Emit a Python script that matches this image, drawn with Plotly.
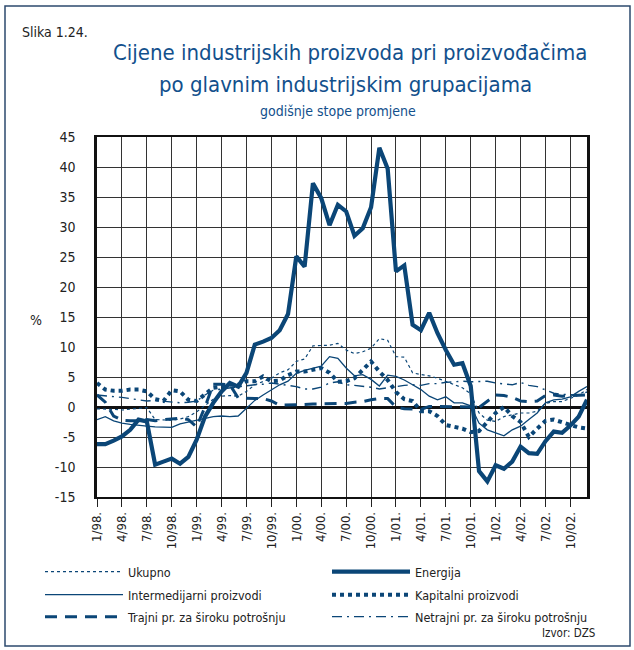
import plotly.graph_objects as go

# ---------------- data (monthly, 1/98 .. 12/02) ----------------
months = list(range(60))
tick_pos = list(range(0, 60, 3))
tick_labels = ["1/98.", "4/98.", "7/98.", "10/98.", "1/99.", "4/99.", "7/99.", "10/99.",
               "1/00.", "4/00.", "7/00.", "10/00.", "1/01.", "4/01.", "7/01.", "10/01.",
               "1/02.", "4/02.", "7/02.", "10/02."]
y_ticks = [-15, -10, -5, 0, 5, 10, 15, 20, 25, 30, 35, 40, 45]
y_tick_labels = ["-15", "-10", "-5", "0", "5", "10", "15", "20", "25", "30", "35", "40", "45"]

ukupno = [-0.3, -0.3, -0.4, -0.5, -0.4, -0.2, -0.1, -2.1, -2.2, -2.2, -2.0, -1.6,
          -0.8, 0.2, 1.3, 1.8, 1.9, 1.8, 2.6, 3.7, 4.3, 4.8, 5.7, 6.2,
          7.6, 8.0, 10.2, 10.2, 10.3, 10.6, 9.5, 8.9, 9.2, 9.8, 11.4, 11.1,
          8.4, 8.3, 5.7, 5.4, 5.2, 4.8, 4.3, 3.7, 3.2, 2.2, -1.0, -2.2,
          -2.4, -1.6, -1.3, -1.0, -1.0, -0.7, 0.6, 0.9, 0.9, 1.4, 2.0, 2.9]

energija = [-6.2, -6.2, -5.6, -4.9, -3.8, -2.1, -2.4, -9.6, -9.1, -8.6, -9.45, -8.3,
            -5.45, -1.6, 0.7, 2.6, 4.0, 3.4, 5.7, 10.4, 10.9, 11.5, 12.8, 15.5,
            25.1, 23.4, 37.3, 34.8, 30.3, 33.7, 32.6, 28.55, 29.8, 33.3, 43.2, 39.7,
            22.6, 23.6, 13.7, 12.8, 15.7, 12.3, 9.5, 7.05, 7.3, 3.5, -10.7, -12.4,
            -9.7, -10.3, -9.1, -6.6, -7.7, -7.8, -5.7, -4.1, -4.3, -3.1, -1.6, 1.2]

intermedijarni = [-2.1, -1.6, -2.3, -2.7, -2.9, -3.1, -3.2, -3.3, -3.4, -3.4, -2.8, -2.5,
                  -2.2, -1.8, -1.6, -1.5, -1.6, -1.5, -0.2, 1.1, 2.0, 2.8, 3.7, 4.3,
                  5.6, 6.1, 6.5, 6.8, 8.4, 8.1, 6.5, 5.2, 5.4, 4.6, 3.5, 5.3,
                  5.1, 4.5, 3.7, 2.9, 1.8, 1.2, 1.7, 0.7, 0.7, 0.2, -2.7, -3.8,
                  -4.3, -4.8, -3.8, -3.2, -2.1, -1.0, 0.7, 1.2, 1.3, 1.7, 2.6, 3.4]

kapitalni = [4.0, 2.9, 2.7, 2.7, 2.9, 2.9, 2.6, 1.3, 1.0, 2.8, 2.6, 1.2,
             1.0, 2.2, 3.2, 3.4, 3.7, 3.7, 4.3, 4.3, 5.1, 4.3, 4.4, 5.3,
             5.9, 5.9, 6.2, 6.5, 5.7, 4.2, 4.3, 4.8, 6.2, 7.6, 5.9, 4.5,
             2.5, 1.3, 1.0, -0.7, -0.7, -1.5, -3.0, -3.3, -3.6, -4.2, -4.0, -2.5,
             -1.0, 0.0, -1.5, -2.5, -5.0, -3.6, -2.3, -2.1, -2.6, -3.0, -3.4, -3.6]

trajni = [2.0, 0.8, -1.5, -2.2, -2.3, -2.3, -2.1, -2.3, -2.1, -2.0, -1.9, -2.1,
          -3.3, 0.0, 3.8, 3.8, 3.7, 1.5, 1.4, 1.4, 1.4, 1.0, 0.3, 0.3,
          0.4, 0.4, 0.5, 0.5, 0.5, 0.5, 0.6, 0.8, 0.9, 1.2, 1.4, 1.4,
          0.0, -0.3, -0.4, -0.4, 0.1, 0.1, 0.1, 0.1, 0.1, 0.0, -0.1, 1.0,
          2.0, 1.9, 1.6, 1.0, 0.9, 1.0, 1.9, 2.0, 1.8, 1.9, 1.9, 2.0]

netrajni = [2.0, 1.9, 1.8, 1.6, 1.4, 1.2, 1.0, 1.1, 1.0, 0.9, 0.7, 0.8,
            1.0, 2.0, 2.8, 3.0, 3.2, 3.3, 3.5, 3.7, 3.8, 4.0, 3.8, 3.6,
            3.4, 3.0, 3.0, 3.3, 4.0, 4.2, 3.7, 3.6, 3.5, 3.3, 3.0, 3.2,
            3.5, 3.6, 3.7, 3.6, 3.9, 3.9, 4.1, 4.2, 4.3, 4.2, 4.2, 4.3,
            4.0, 3.8, 3.7, 4.1, 3.6, 3.4, 2.8, 2.3, 2.1, 2.0, 2.0, 2.5]

# ---------------- styling ----------------
NAVY = "#0b4677"
TITLE_BLUE = "#12508c"
FONT = "DejaVu Sans Condensed, Liberation Sans Narrow, sans-serif"

W, H = 634, 650
L, R, T, B = 97, 587, 137, 497


def px(x):
    return (x - L) / (R - L)


def py(y):
    return (B - y) / (B - T)


series = [
    ("Ukupno", ukupno, dict(color=NAVY, width=1.2, dash="dot")),
    ("Energija", energija, dict(color=NAVY, width=4.2)),
    ("Intermedijarni proizvodi", intermedijarni, dict(color=NAVY, width=1.3)),
    ("Kapitalni proizvodi", kapitalni, dict(color=NAVY, width=4, dash="dot")),
    ("Trajni pr. za široku potrošnju", trajni, dict(color=NAVY, width=3, dash="12px,8px")),
    ("Netrajni pr. za široku potrošnju", netrajni, dict(color=NAVY, width=1.4, dash="10px,5px,2px,5px")),
]
# legend slot (column x, row y) in pixels for each series
legend_slots = [(40, 572), (327, 572), (40, 595), (327, 595), (40, 617), (327, 617)]

fig = go.Figure()
legend_layouts = {}
for i, (name, vals, line) in enumerate(series):
    lname = "legend" if i == 0 else f"legend{i + 1}"
    fig.add_trace(go.Scatter(x=months, y=vals, name=name, mode="lines", line=line,
                             legend=lname, hoverinfo="skip"))
    lx, ly = legend_slots[i]
    legend_layouts[lname] = dict(x=px(lx), y=py(ly), xanchor="left", yanchor="middle",
                                 orientation="v", itemwidth=78,
                                 font=dict(family=FONT, size=12.5, color="#222"),
                                 bgcolor="rgba(0,0,0,0)")

fig.update_layout(
    width=W, height=H,
    margin=dict(l=L, r=W - R, t=T, b=H - B, autoexpand=False),
    paper_bgcolor="white", plot_bgcolor="white",
    font=dict(family=FONT, size=13, color="#222"),
    showlegend=True,
    **legend_layouts,
)

fig.update_xaxes(range=[0, 59], tickvals=tick_pos, ticktext=tick_labels, tickangle=-90,
                 showgrid=True, gridcolor="#333", gridwidth=1,
                 ticks="outside", ticklen=8, tickcolor="#222",
                 showline=True, linecolor="#111", linewidth=1.5, mirror=True,
                 zeroline=False, tickfont=dict(family=FONT, size=13, color="#222"))
fig.update_yaxes(range=[-15, 45], tickvals=y_ticks, ticktext=y_tick_labels,
                 showgrid=True, gridcolor="#333", gridwidth=1,
                 zeroline=True, zerolinecolor="#111", zerolinewidth=2.5,
                 showline=True, linecolor="#111", linewidth=2.5, mirror=True,
                 ticks="", ticklabelstandoff=16,
                 tickfont=dict(family=FONT, size=14, color="#222"))

annotations = [
    dict(text="Slika 1.24.", x=px(20), y=py(32), xanchor="left", yanchor="middle",
         font=dict(family=FONT, size=14, color="#222")),
    dict(text="Cijene industrijskih proizvoda pri proizvođačima", x=px(350), y=py(53),
         xanchor="center", yanchor="middle", font=dict(family=FONT, size=22, color=TITLE_BLUE)),
    dict(text="po glavnim industrijskim grupacijama", x=px(345), y=py(84),
         xanchor="center", yanchor="middle", font=dict(family=FONT, size=22, color=TITLE_BLUE)),
    dict(text="godišnje stope promjene", x=px(338), y=py(111),
         xanchor="center", yanchor="middle", font=dict(family=FONT, size=14, color=TITLE_BLUE)),
    dict(text="%", x=px(36), y=py(320), xanchor="center", yanchor="middle",
         font=dict(family=FONT, size=14, color="#222")),
    dict(text="Izvor: DZS", x=px(597), y=py(633), xanchor="right", yanchor="middle",
         font=dict(family=FONT, size=11.5, color="#222")),
]
for a in annotations:
    a.update(xref="paper", yref="paper", showarrow=False)
fig.update_layout(annotations=annotations)

fig.add_shape(type="rect", xref="paper", yref="paper",
              x0=px(5), x1=px(630), y0=py(646), y1=py(6),
              line=dict(color="#2c4a6e", width=1.5), fillcolor="rgba(0,0,0,0)", layer="below")

fig.write_html("out.html", config={"displayModeBar": False},
               post_script="document.body.style.margin='0px';document.body.style.overflow='hidden';")
